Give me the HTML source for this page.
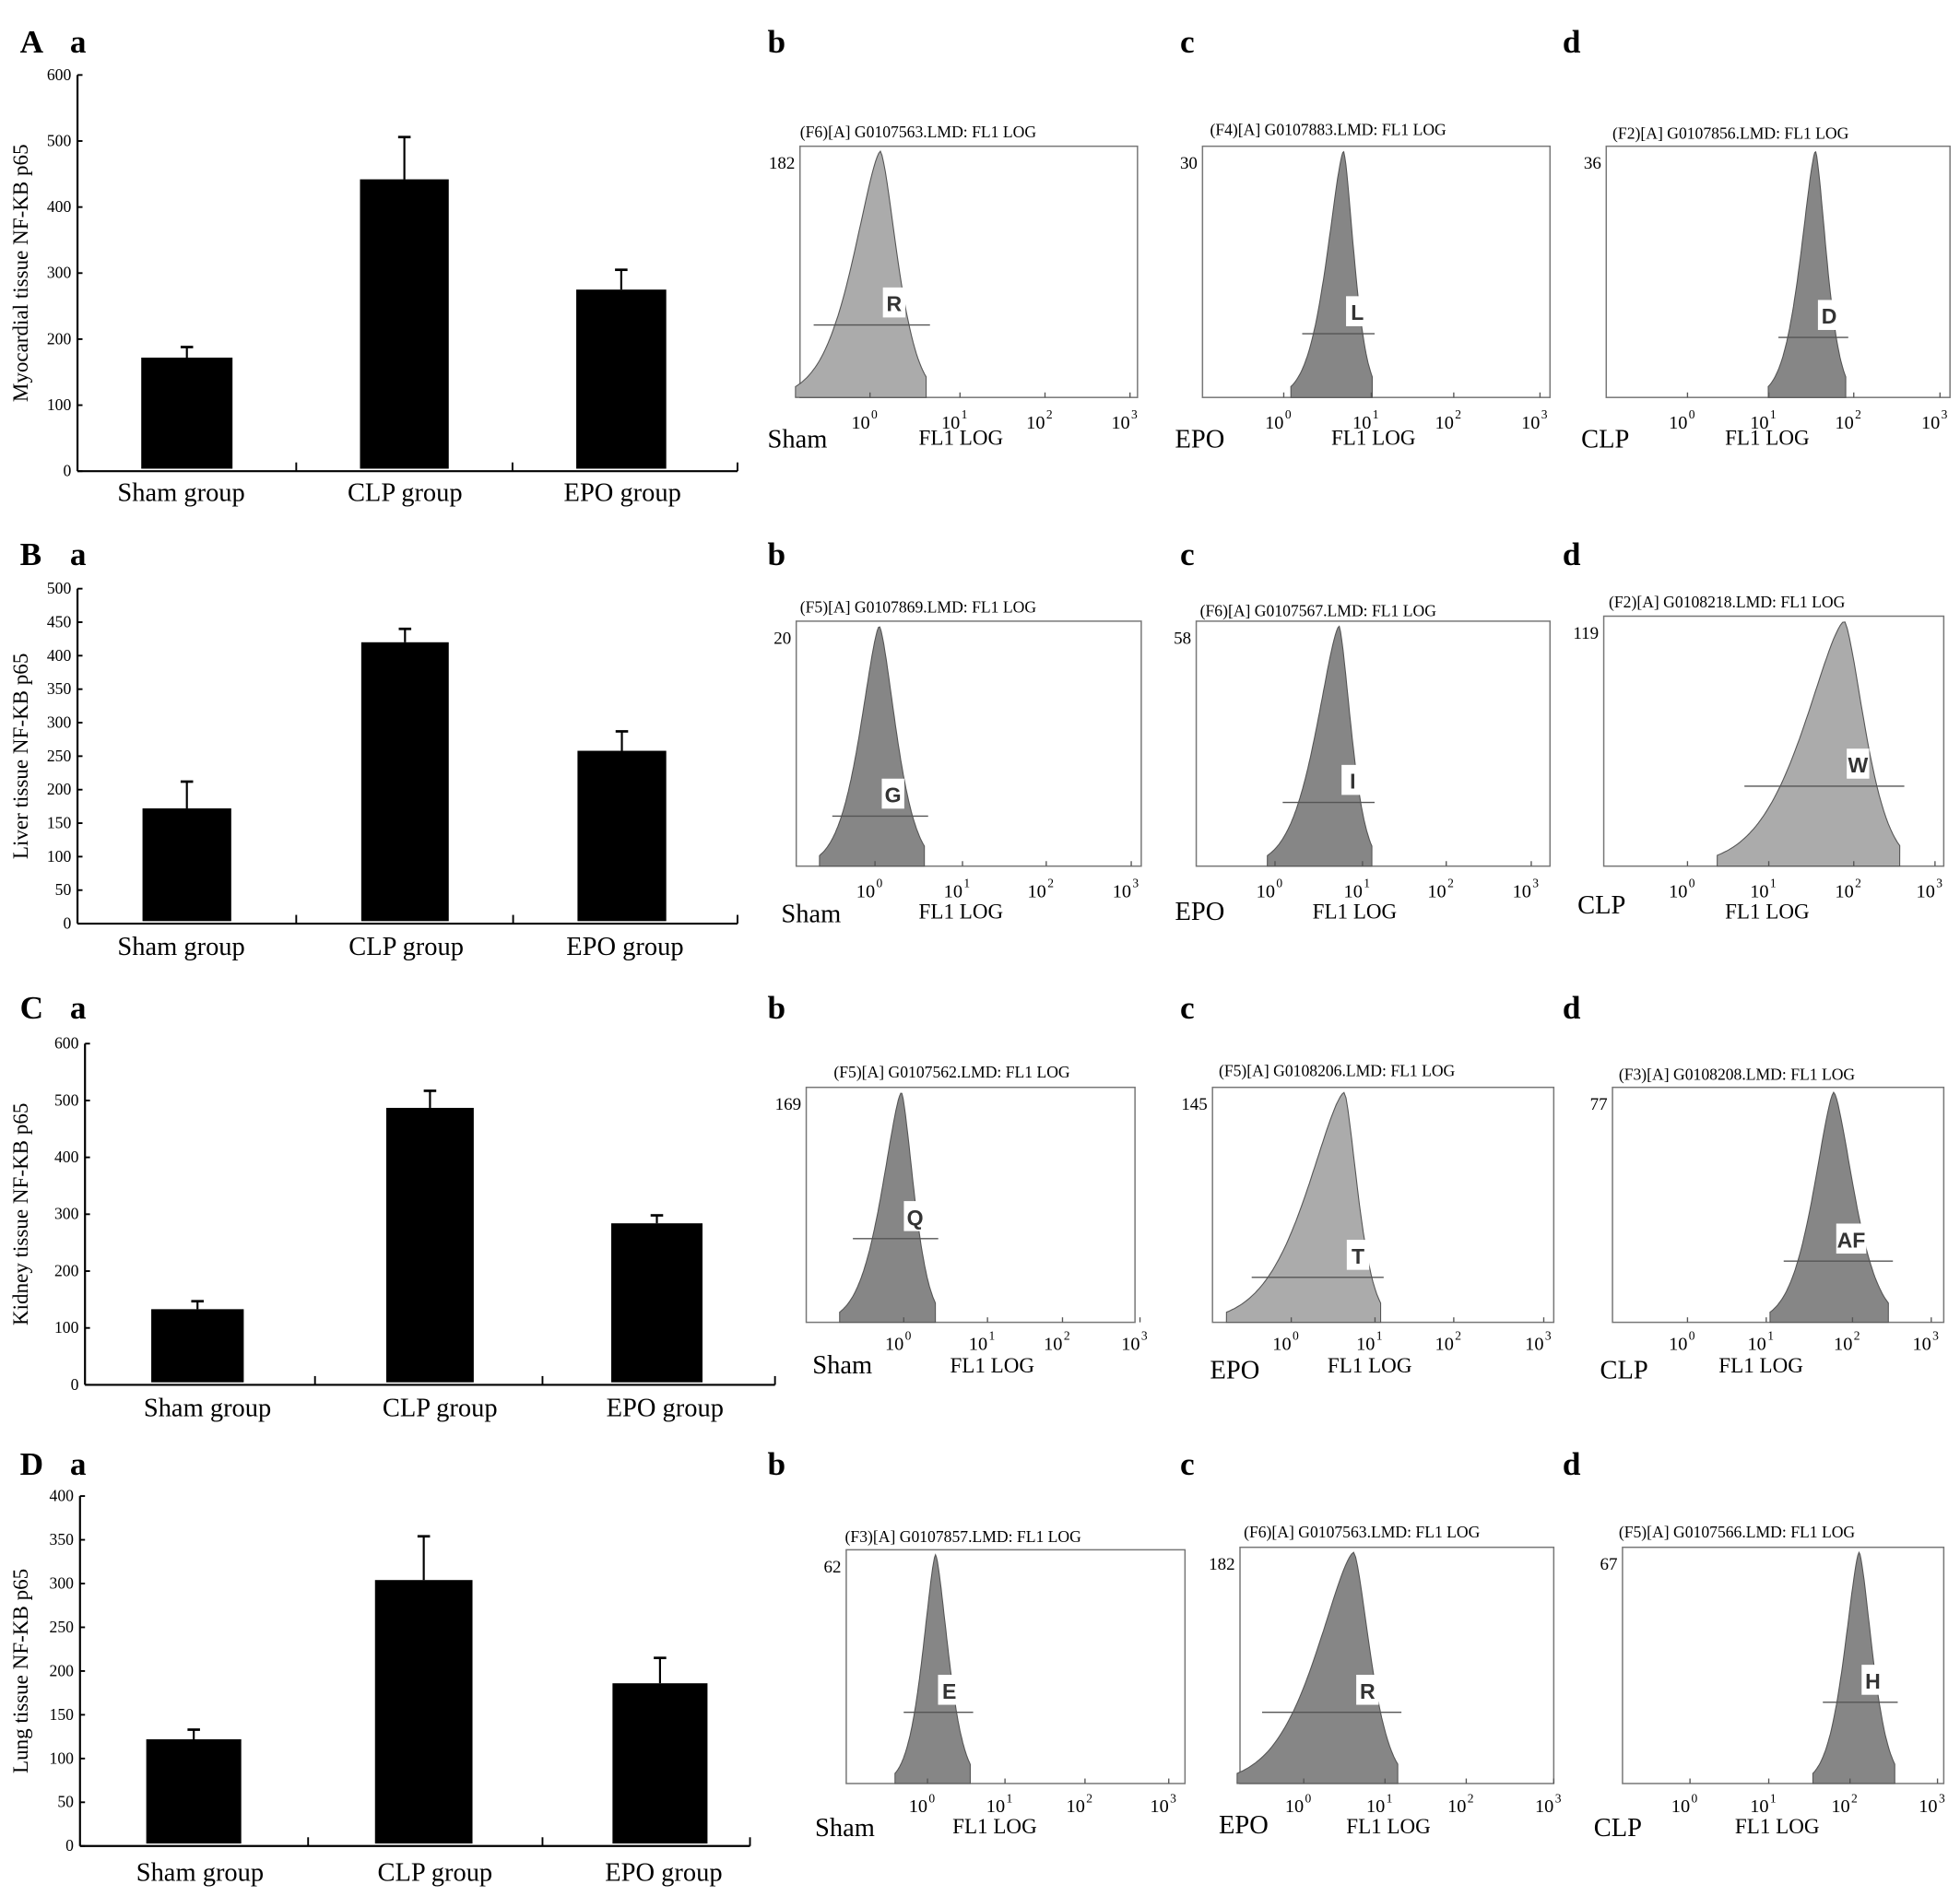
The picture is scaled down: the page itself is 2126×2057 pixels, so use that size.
<!DOCTYPE html>
<html><head><meta charset="utf-8"><style>
html,body{margin:0;padding:0;background:#fff;}
svg{display:block;}
text{font-family:"Liberation Serif",serif;fill:#000;}
</style></head><body>
<svg id="fig" width="2126" height="2057" viewBox="0 0 1568 1517" preserveAspectRatio="none" xmlns="http://www.w3.org/2000/svg"></svg>
<script>
// ---- bar chart data ----
const categories = ["Sham group","CLP group","EPO group"];
const myocardialValues = [172, 442, 275];
const myocardialErrors = [16, 64, 30];
const liverValues = [172, 420, 258];
const liverErrors = [40, 20, 29];
const kidneyValues = [133, 487, 284];
const kidneyErrors = [14, 30, 14];
const lungValues = [122, 304, 186];
const lungErrors = [11, 50, 29];
const tickA = [0,100,200,300,400,500,600];
const tickB = [0,50,100,150,200,250,300,350,400,450,500];
const tickC = [0,100,200,300,400,500,600];
const tickD = [0,50,100,150,200,250,300,350,400];
// ---- histogram data: peak (log10 FL1), spread left/right (decades), count label ----
const histPeaks = [0.12,0.7,1.52, 0.05,0.75,1.9, -0.03,0.63,1.8, 0.1,0.6,2.05];
const histLeftSpread = [0.35,0.22,0.2, 0.25,0.3,0.55, 0.28,0.5,0.28, 0.18,0.5,0.2];
const histRightSpread = [0.22,0.14,0.15, 0.22,0.16,0.28, 0.18,0.18,0.28, 0.18,0.22,0.18];
const histCounts = ["182","30","36","20","58","119","169","145","77","62","182","67"];
const gateLabels = ["R","L","D","G","I","W","Q","T","AF","E","R","H"];

const NS="http://www.w3.org/2000/svg";
const svg=document.getElementById('fig');
function el(tag,attrs,parent){const e=document.createElementNS(NS,tag);for(const k in attrs)e.setAttribute(k,attrs[k]);(parent||svg).appendChild(e);return e;}
function txt(x,y,s,size,extra,parent){const t=el('text',Object.assign({x:x,y:y,'font-size':size},extra||{}),parent);t.textContent=s;return t;}

const rowsY=[42,452,815,1180];
const rowL=["A","B","C","D"];
rowsY.forEach((y,i)=>{
  const a=txt(16,y,rowL[i],26,{'font-weight':'bold'});
  
  const b=txt(56,y,"a",26,{'font-weight':'bold'});
  
  [["b",614],["c",944],["d",1250]].forEach(p=>{
    const t=txt(p[1],y,p[0],26,{'font-weight':'bold'});
    
  });
});

const bars=[
 {name:'myocardial',title:'Myocardial tissue NF-KB p65',vals:myocardialValues,errs:myocardialErrors,ticks:tickA,ax:62,xEnd:590,y0:377,yTop:60,max:600,bx:[113,288,461],bw:[73,71,72],lblY:401,lblX:[145,324,498]},
 {name:'liver',title:'Liver tissue NF-KB p65',vals:liverValues,errs:liverErrors,ticks:tickB,ax:62,xEnd:590,y0:739,yTop:471,max:500,bx:[114,289,462],bw:[71,70,71],lblY:764,lblX:[145,325,500]},
 {name:'kidney',title:'Kidney tissue NF-KB p65',vals:kidneyValues,errs:kidneyErrors,ticks:tickC,ax:68,xEnd:620,y0:1108,yTop:835,max:600,bx:[121,309,489],bw:[74,70,73],lblY:1133,lblX:[166,352,532]},
 {name:'lung',title:'Lung tissue NF-KB p65',vals:lungValues,errs:lungErrors,ticks:tickD,ax:64,xEnd:600,y0:1477,yTop:1197,max:400,bx:[117,300,490],bw:[76,78,76],lblY:1505,lblX:[160,348,531]}
];
bars.forEach(c=>{
  const g=el('g',{});
  
  const ys=v=>c.y0-(v/c.max)*(c.y0-c.yTop);
  el('line',{x1:c.ax,y1:c.yTop,x2:c.ax,y2:c.y0,stroke:'#000','stroke-width':1.6},g);
  el('line',{x1:c.ax,y1:c.y0,x2:c.xEnd,y2:c.y0,stroke:'#000','stroke-width':1.6},g);
  c.ticks.forEach(t=>{
    const y=ys(t);
    el('line',{x1:c.ax,y1:y,x2:c.ax+4,y2:y,stroke:'#000','stroke-width':1.4},g);
    const l=txt(c.ax-5,y+4,String(t),13,{'text-anchor':'end'},g);
    
  });
  const sep=[(c.bx[0]+c.bw[0]+c.bx[1])/2,(c.bx[1]+c.bw[1]+c.bx[2])/2,c.xEnd];
  sep.forEach(x=>el('line',{x1:x,y1:c.y0,x2:x,y2:c.y0-7,stroke:'#000','stroke-width':1.4},g));
  c.vals.forEach((v,i)=>{
    const cx=c.bx[i]+c.bw[i]/2;
    const eTop=ys(v+c.errs[i]);
    el('line',{x1:cx,y1:ys(v),x2:cx,y2:eTop,stroke:'#000','stroke-width':1.6},g);
    el('line',{x1:cx-5,y1:eTop,x2:cx+5,y2:eTop,stroke:'#000','stroke-width':2},g);
    const r=el('rect',{x:c.bx[i],y:ys(v),width:c.bw[i],height:c.y0-ys(v)-2,fill:'#000'},g);
    
    
    const l=txt(c.lblX[i],c.lblY,categories[i],21,{'text-anchor':'middle'},g);
    
  });
  const ym=(c.y0+c.yTop)/2;
  const t=txt(22,ym,c.title,17,{'text-anchor':'middle',transform:'rotate(-90 22 '+ym+')'},g);
  
});

const H=[
 {x0:640,x1:910,y0:117,y1:318,hdr:"(F6)[A] G0107563.LMD: FL1 LOG",hx:640,hy:110,dec:[696,768,836,904],dy:343,grp:"Sham",gx:614,gy:358,fx:735,fy:356,gy2:260,light:true},
 {x0:962,x1:1240,y0:117,y1:318,hdr:"(F4)[A] G0107883.LMD: FL1 LOG",hx:968,hy:108,dec:[1027,1097,1163,1232],dy:343,grp:"EPO",gx:940,gy:358,fx:1065,fy:356,gy2:267,light:false},
 {x0:1285,x1:1560,y0:117,y1:318,hdr:"(F2)[A] G0107856.LMD: FL1 LOG",hx:1290,hy:111,dec:[1350,1415,1483,1552],dy:343,grp:"CLP",gx:1265,gy:358,fx:1380,fy:356,gy2:270,light:false},
 {x0:637,x1:913,y0:497,y1:693,hdr:"(F5)[A] G0107869.LMD: FL1 LOG",hx:640,hy:490,dec:[700,770,837,905],dy:718,grp:"Sham",gx:625,gy:738,fx:735,fy:735,gy2:653,light:false},
 {x0:957,x1:1240,y0:497,y1:693,hdr:"(F6)[A] G0107567.LMD: FL1 LOG",hx:960,hy:493,dec:[1020,1090,1157,1225],dy:718,grp:"EPO",gx:940,gy:736,fx:1050,fy:735,gy2:642,light:false},
 {x0:1283,x1:1555,y0:493,y1:693,hdr:"(F2)[A] G0108218.LMD: FL1 LOG",hx:1287,hy:486,dec:[1350,1415,1483,1548],dy:718,grp:"CLP",gx:1262,gy:731,fx:1380,fy:735,gy2:629,light:true},
 {x0:645,x1:908,y0:870,y1:1058,hdr:"(F5)[A] G0107562.LMD: FL1 LOG",hx:667,hy:862,dec:[723,790,850,912],dy:1080,grp:"Sham",gx:650,gy:1099,fx:760,fy:1098,gy2:991,light:false},
 {x0:970,x1:1243,y0:870,y1:1058,hdr:"(F5)[A] G0108206.LMD: FL1 LOG",hx:975,hy:861,dec:[1033,1100,1163,1235],dy:1080,grp:"EPO",gx:968,gy:1103,fx:1062,fy:1098,gy2:1022,light:true},
 {x0:1290,x1:1555,y0:870,y1:1058,hdr:"(F3)[A] G0108208.LMD: FL1 LOG",hx:1295,hy:864,dec:[1350,1413,1482,1545],dy:1080,grp:"CLP",gx:1280,gy:1103,fx:1375,fy:1098,gy2:1009,light:false},
 {x0:677,x1:948,y0:1240,y1:1427,hdr:"(F3)[A] G0107857.LMD: FL1 LOG",hx:676,hy:1234,dec:[742,804,868,935],dy:1450,grp:"Sham",gx:652,gy:1469,fx:762,fy:1467,gy2:1370,light:false},
 {x0:992,x1:1243,y0:1238,y1:1427,hdr:"(F6)[A] G0107563.LMD: FL1 LOG",hx:995,hy:1230,dec:[1043,1108,1173,1243],dy:1450,grp:"EPO",gx:975,gy:1467,fx:1077,fy:1467,gy2:1370,light:false},
 {x0:1298,x1:1555,y0:1238,y1:1427,hdr:"(F5)[A] G0107566.LMD: FL1 LOG",hx:1295,hy:1230,dec:[1352,1415,1480,1550],dy:1450,grp:"CLP",gx:1275,gy:1469,fx:1388,fy:1467,gy2:1362,light:false}
];
H.forEach((h,i)=>{
  const g=el('g',{});
  
  const dx=(h.dec[3]-h.dec[0])/3;
  const xs=v=>h.dec[0]+v*dx;
  el('rect',{x:h.x0,y:h.y0,width:h.x1-h.x0,height:h.y1-h.y0,fill:'#fff',stroke:'#777','stroke-width':1.1},g);
  const p=histPeaks[i],sl=histLeftSpread[i],sr=histRightSpread[i];
  let d='M'+xs(p-sl*2.8)+','+h.y1;
  for(let k=0;k<=80;k++){
    const v=p-sl*2.8+k*(sl*2.8+sr*2.4)/80;
    const s=v<p?sl:sr;
    const z=Math.abs((v-p)/s);
    const f=Math.exp(-Math.pow(z,1.5)/1.5);
    d+=' L'+xs(v).toFixed(1)+','+(h.y1-f*(h.y1-h.y0-4)).toFixed(1);
  }
  d+=' L'+xs(p+sr*2.4)+','+h.y1+' Z';
  const hp=el('path',{d:d,fill:h.light?'#ababab':'#868686',stroke:'#555','stroke-width':0.8},g);
  
  const gx1=xs(p-sl*2.2),gx2=xs(p+sr*2.6);
  el('line',{x1:gx1,y1:h.gy2,x2:gx2,y2:h.gy2,stroke:'#555','stroke-width':1},g);
  const lab=gateLabels[i],lw=lab.length>1?24:18;
  el('rect',{x:xs(p)+2,y:h.gy2-30,width:lw,height:24,fill:'#fff'},g);
  const gl=txt(xs(p)+2+lw/2,h.gy2-11,lab,17,{'text-anchor':'middle','font-weight':'bold',style:'fill:#333;font-family:"Liberation Sans",sans-serif'},g);
  
  const hd=txt(h.hx,h.hy,h.hdr,13,{},g);
  
  const ct=txt(h.x0-4,h.y0+18,histCounts[i],14,{'text-anchor':'end'},g);
  
  h.dec.forEach((x,k)=>{
    el('line',{x1:x,y1:h.y1,x2:x,y2:h.y1-4,stroke:'#555'},g);
    const t=txt(x,h.dy,'10',15,{'text-anchor':'end'},g);
    
    txt(x+1,h.dy-8,String(k),10,{},g);
  });
  const gn=txt(h.gx,h.gy,h.grp,21,{},g);
  
  const fl=txt(h.fx,h.fy,'FL1 LOG',17,{},g);
  
});
</script>
</body></html>
